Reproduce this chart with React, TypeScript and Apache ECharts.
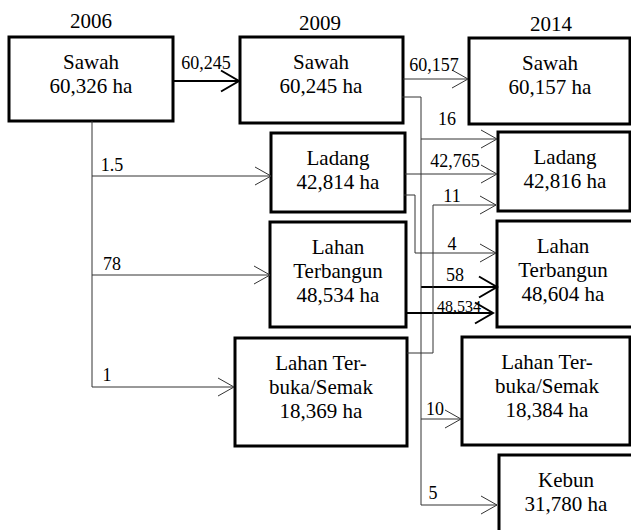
import React, { useEffect, useRef } from "react";
import * as echarts from "echarts";

// ---- data ----
const years = ["2006", "2009", "2014"];
const nodeYear = [0, 1, 1, 1, 1, 2, 2, 2, 2, 2];
const nodeNames = [
  "Sawah",
  "Sawah",
  "Ladang",
  "Lahan\nTerbangun",
  "Lahan Ter-\nbuka/Semak",
  "Sawah",
  "Ladang",
  "Lahan\nTerbangun",
  "Lahan Ter-\nbuka/Semak",
  "Kebun",
];
const nodeAreas = ["60,326", "60,245", "42,814", "48,534", "18,369", "60,157", "42,816", "48,604", "18,384", "31,780"];
const flowSource = [0, 0, 0, 0, 1, 1, 1, 1, 1, 2, 2, 3, 4];
const flowTarget = [1, 2, 3, 4, 5, 6, 7, 8, 9, 6, 7, 7, 6];
const flowValues = ["60,245", "1.5", "78", "1", "60,157", "16", "58", "10", "5", "42,765", "4", "48,534", "11"];

// ---- layout (diagram units = pixels) ----
const W = 631;
const H = 530;
const boxLayout = [
  [9, 37, 173, 121],
  [240, 37, 403, 123],
  [271, 133, 405, 212],
  [270, 222, 406, 327],
  [235, 338, 407, 446],
  [469, 38, 630, 124],
  [498, 132, 630, 211],
  [497, 221, 645, 327],
  [462, 337, 630, 445],
  [499, 455, 645, 545],
];
const boxTextX = [91, 321, 338, 338, 321, 550, 565, 563, 547, 566];
const yearPos = [
  [91, 21],
  [320, 23],
  [551, 24],
];
const flowRoutes = [
  [[173, 81], [239, 81]],
  [[92, 176], [271, 176]],
  [[92, 275], [270, 275]],
  [[92, 121], [92, 387], [234, 387]],
  [[403, 79], [468, 79]],
  [[421, 139], [497, 139]],
  [[421, 287], [497, 287]],
  [[421, 419], [461, 419]],
  [[402, 97], [421, 97], [421, 505], [497, 505]],
  [[405, 174], [497, 174]],
  [[404, 195], [415, 195], [415, 253], [496, 253]],
  [[405, 313], [493, 313]],
  [[407, 353], [433, 353], [433, 205], [496, 205]],
];
const flowLabelPos = [
  [206, 63],
  [112, 165],
  [112, 264],
  [107, 375],
  [434, 65],
  [447, 119],
  [455, 275],
  [435, 409],
  [433, 493],
  [455, 161],
  [452, 244],
  [459, 306],
  [452, 196],
];
const thickFlows = [0, 6, 11];
const FAMILY = "Liberation Serif";

export default function App() {
  const ref = useRef<HTMLDivElement>(null);
  useEffect(() => {
    document.body.style.margin = "0";
    if (!ref.current) return;
    const chart = echarts.init(ref.current, undefined, { renderer: "svg" });

    const renderBox = (params: any, api: any) => {
      const i = params.dataIndex;
      const [x0, y0, x1, y1] = boxLayout[i];
      const p0 = api.coord([x0, y0]);
      const p1 = api.coord([x1, y1]);
      const tx = api.coord([boxTextX[i], y0 + 13]);
      return {
        type: "group",
        children: [
          {
            type: "rect",
            shape: { x: p0[0], y: p0[1], width: p1[0] - p0[0], height: p1[1] - p0[1] },
            style: { fill: "#fff", stroke: "#000", lineWidth: 3 },
          },
          {
            type: "text",
            style: {
              text: nodeNames[i] + "\n" + nodeAreas[i] + " ha",
              x: tx[0],
              y: tx[1],
              align: "center",
              verticalAlign: "top",
              fontSize: 21,
              fontFamily: FAMILY,
              lineHeight: 24,
              fill: "#000",
            },
          },
        ],
      };
    };

    const renderFlow = (params: any, api: any) => {
      const i = params.dataIndex;
      const pts = flowRoutes[i].map((p) => api.coord(p));
      const thick = thickFlows.indexOf(i) >= 0;
      const tip = pts[pts.length - 1];
      const L = thick ? 18 : 16;
      const Hh = thick ? 10.5 : 9;
      const col = thick ? "#000" : "#333";
      const lw = thick ? 2 : 1;
      const lp = api.coord(flowLabelPos[i]);
      return {
        type: "group",
        children: [
          { type: "polyline", shape: { points: pts }, style: { stroke: col, lineWidth: lw, fill: "none" } },
          {
            type: "polyline",
            shape: { points: [[tip[0] - L, tip[1] - Hh], tip, [tip[0] - L, tip[1] + Hh]] },
            style: { stroke: col, lineWidth: lw, fill: "none" },
          },
          {
            type: "text",
            style: {
              text: flowValues[i],
              x: lp[0],
              y: lp[1],
              align: "center",
              verticalAlign: "middle",
              fontSize: i === 11 ? 16 : 18,
              fontFamily: FAMILY,
              fill: "#000",
            },
          },
        ],
      };
    };

    const renderYear = (params: any, api: any) => {
      const i = params.dataIndex;
      const p = api.coord(yearPos[i]);
      return {
        type: "text",
        style: {
          text: years[i],
          x: p[0],
          y: p[1],
          align: "center",
          verticalAlign: "middle",
          fontSize: 21,
          fontFamily: FAMILY,
          fill: "#000",
        },
      };
    };

    chart.setOption({
      animation: false,
      textStyle: { fontFamily: FAMILY },
      grid: { left: 0, right: 0, top: 0, bottom: 0 },
      xAxis: { type: "value", min: 0, max: W, show: false },
      yAxis: { type: "value", min: 0, max: H, inverse: true, show: false },
      series: [
        {
          type: "custom",
          name: "boxes",
          coordinateSystem: "cartesian2d",
          clip: false,
          silent: true,
          data: nodeNames.map((_, i) => [boxLayout[i][0], nodeYear[i]]),
          renderItem: renderBox,
        },
        {
          type: "custom",
          name: "flows",
          coordinateSystem: "cartesian2d",
          clip: false,
          silent: true,
          data: flowValues.map((_, i) => [flowSource[i], flowTarget[i]]),
          renderItem: renderFlow,
        },
        {
          type: "custom",
          name: "years",
          coordinateSystem: "cartesian2d",
          clip: false,
          silent: true,
          data: years.map((_, i) => [i, 0]),
          renderItem: renderYear,
        },
      ],
    });
    return () => chart.dispose();
  }, []);
  return <div ref={ref} style={{ width: W, height: H, fontFamily: FAMILY }} />;
}
